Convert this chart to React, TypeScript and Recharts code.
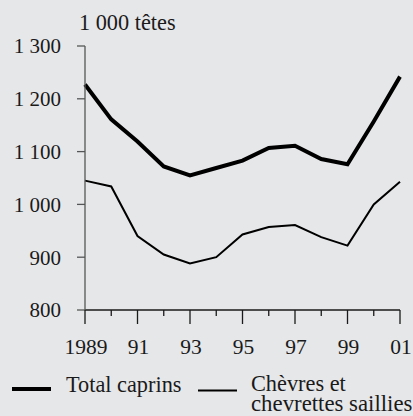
import React from 'react';
import { LineChart, Line, XAxis, YAxis, Customized } from 'recharts';

const years = [1989, 1990, 1991, 1992, 1993, 1994, 1995, 1996, 1997, 1998, 1999, 2000, 2001];
const totalCaprins = [1227, 1161, 1119, 1072, 1055, 1069, 1083, 1107, 1111, 1086, 1076, 1157, 1242];
const chevresSaillies = [1045, 1034, 940, 905, 888, 900, 943, 957, 961, 938, 922, 1000, 1043];
const yTicks = [800, 900, 1000, 1100, 1200, 1300];

const data = years.map((year, i) => ({ year, total: totalCaprins[i], chevres: chevresSaillies[i] }));

const FONT = 'Liberation Serif';
const TEXT = '#1a1a1a';
const AXIS = '#555';

const fmtY = (v: number) => {
  const s = String(v);
  return s.length > 3 ? s.slice(0, s.length - 3) + ' ' + s.slice(-3) : s;
};

const YearTick = (props: any) => {
  const { x, y, payload } = props;
  const year = payload.value as number;
  const major = year % 2 === 1;
  const label = year === 1989 ? '1989' : String(year).slice(-2);
  return (
    <g>
      <line x1={x} x2={x} y1={y} y2={y + (major ? 14 : 6)} stroke={TEXT} strokeWidth={1.3} />
      {major && (
        <text x={x + 1} y={y + 44} textAnchor="middle" style={{ fontFamily: FONT, fontSize: 21.5 }} fill={TEXT}>
          {label}
        </text>
      )}
    </g>
  );
};

const Extras = () => (
  <g style={{ fontFamily: FONT, fontSize: 22.3 }} fill={TEXT}>
    <text x={79} y={29.5}>1 000 têtes</text>
    <line x1={12} x2={51} y1={389} y2={389} stroke="#000" strokeWidth={4} />
    <text x={66} y={392}>Total caprins</text>
    <line x1={198} x2={237} y1={390.5} y2={390.5} stroke="#000" strokeWidth={2} />
    <text x={251} y={391}>Chèvres et</text>
    <text x={251} y={411} style={{ fontSize: 22.8 }}>chevrettes saillies</text>
  </g>
);

export default function App() {
  return (
    <div style={{ position: 'absolute', left: 0, top: 0, width: 413, height: 416, background: '#e6e7e9', fontFamily: FONT }}>
      <LineChart width={413} height={416} data={data} margin={{ top: 46, right: 13, left: 0, bottom: 56 }}>
        <XAxis
          dataKey="year"
          type="number"
          domain={[1989, 2001]}
          ticks={years}
          interval={0}
          height={50}
          tickLine={false}
          tickSize={0}
          tickMargin={0}
          tick={<YearTick />}
          axisLine={{ stroke: TEXT, strokeWidth: 1.3 }}
        />
        <YAxis
          domain={[800, 1300]}
          ticks={yTicks}
          interval={0}
          width={85}
          tickSize={8}
          tickMargin={16}
          tickFormatter={fmtY}
          tick={{ style: { fontFamily: FONT }, fontSize: 21, fill: TEXT }}
          tickLine={{ stroke: AXIS, strokeWidth: 1.3 }}
          axisLine={{ stroke: AXIS, strokeWidth: 1.3 }}
        />
        <Line dataKey="total" stroke="#000" strokeWidth={4} dot={false} isAnimationActive={false} />
        <Line dataKey="chevres" stroke="#000" strokeWidth={2} dot={false} isAnimationActive={false} />
        <Customized component={Extras} />
      </LineChart>
    </div>
  );
}
